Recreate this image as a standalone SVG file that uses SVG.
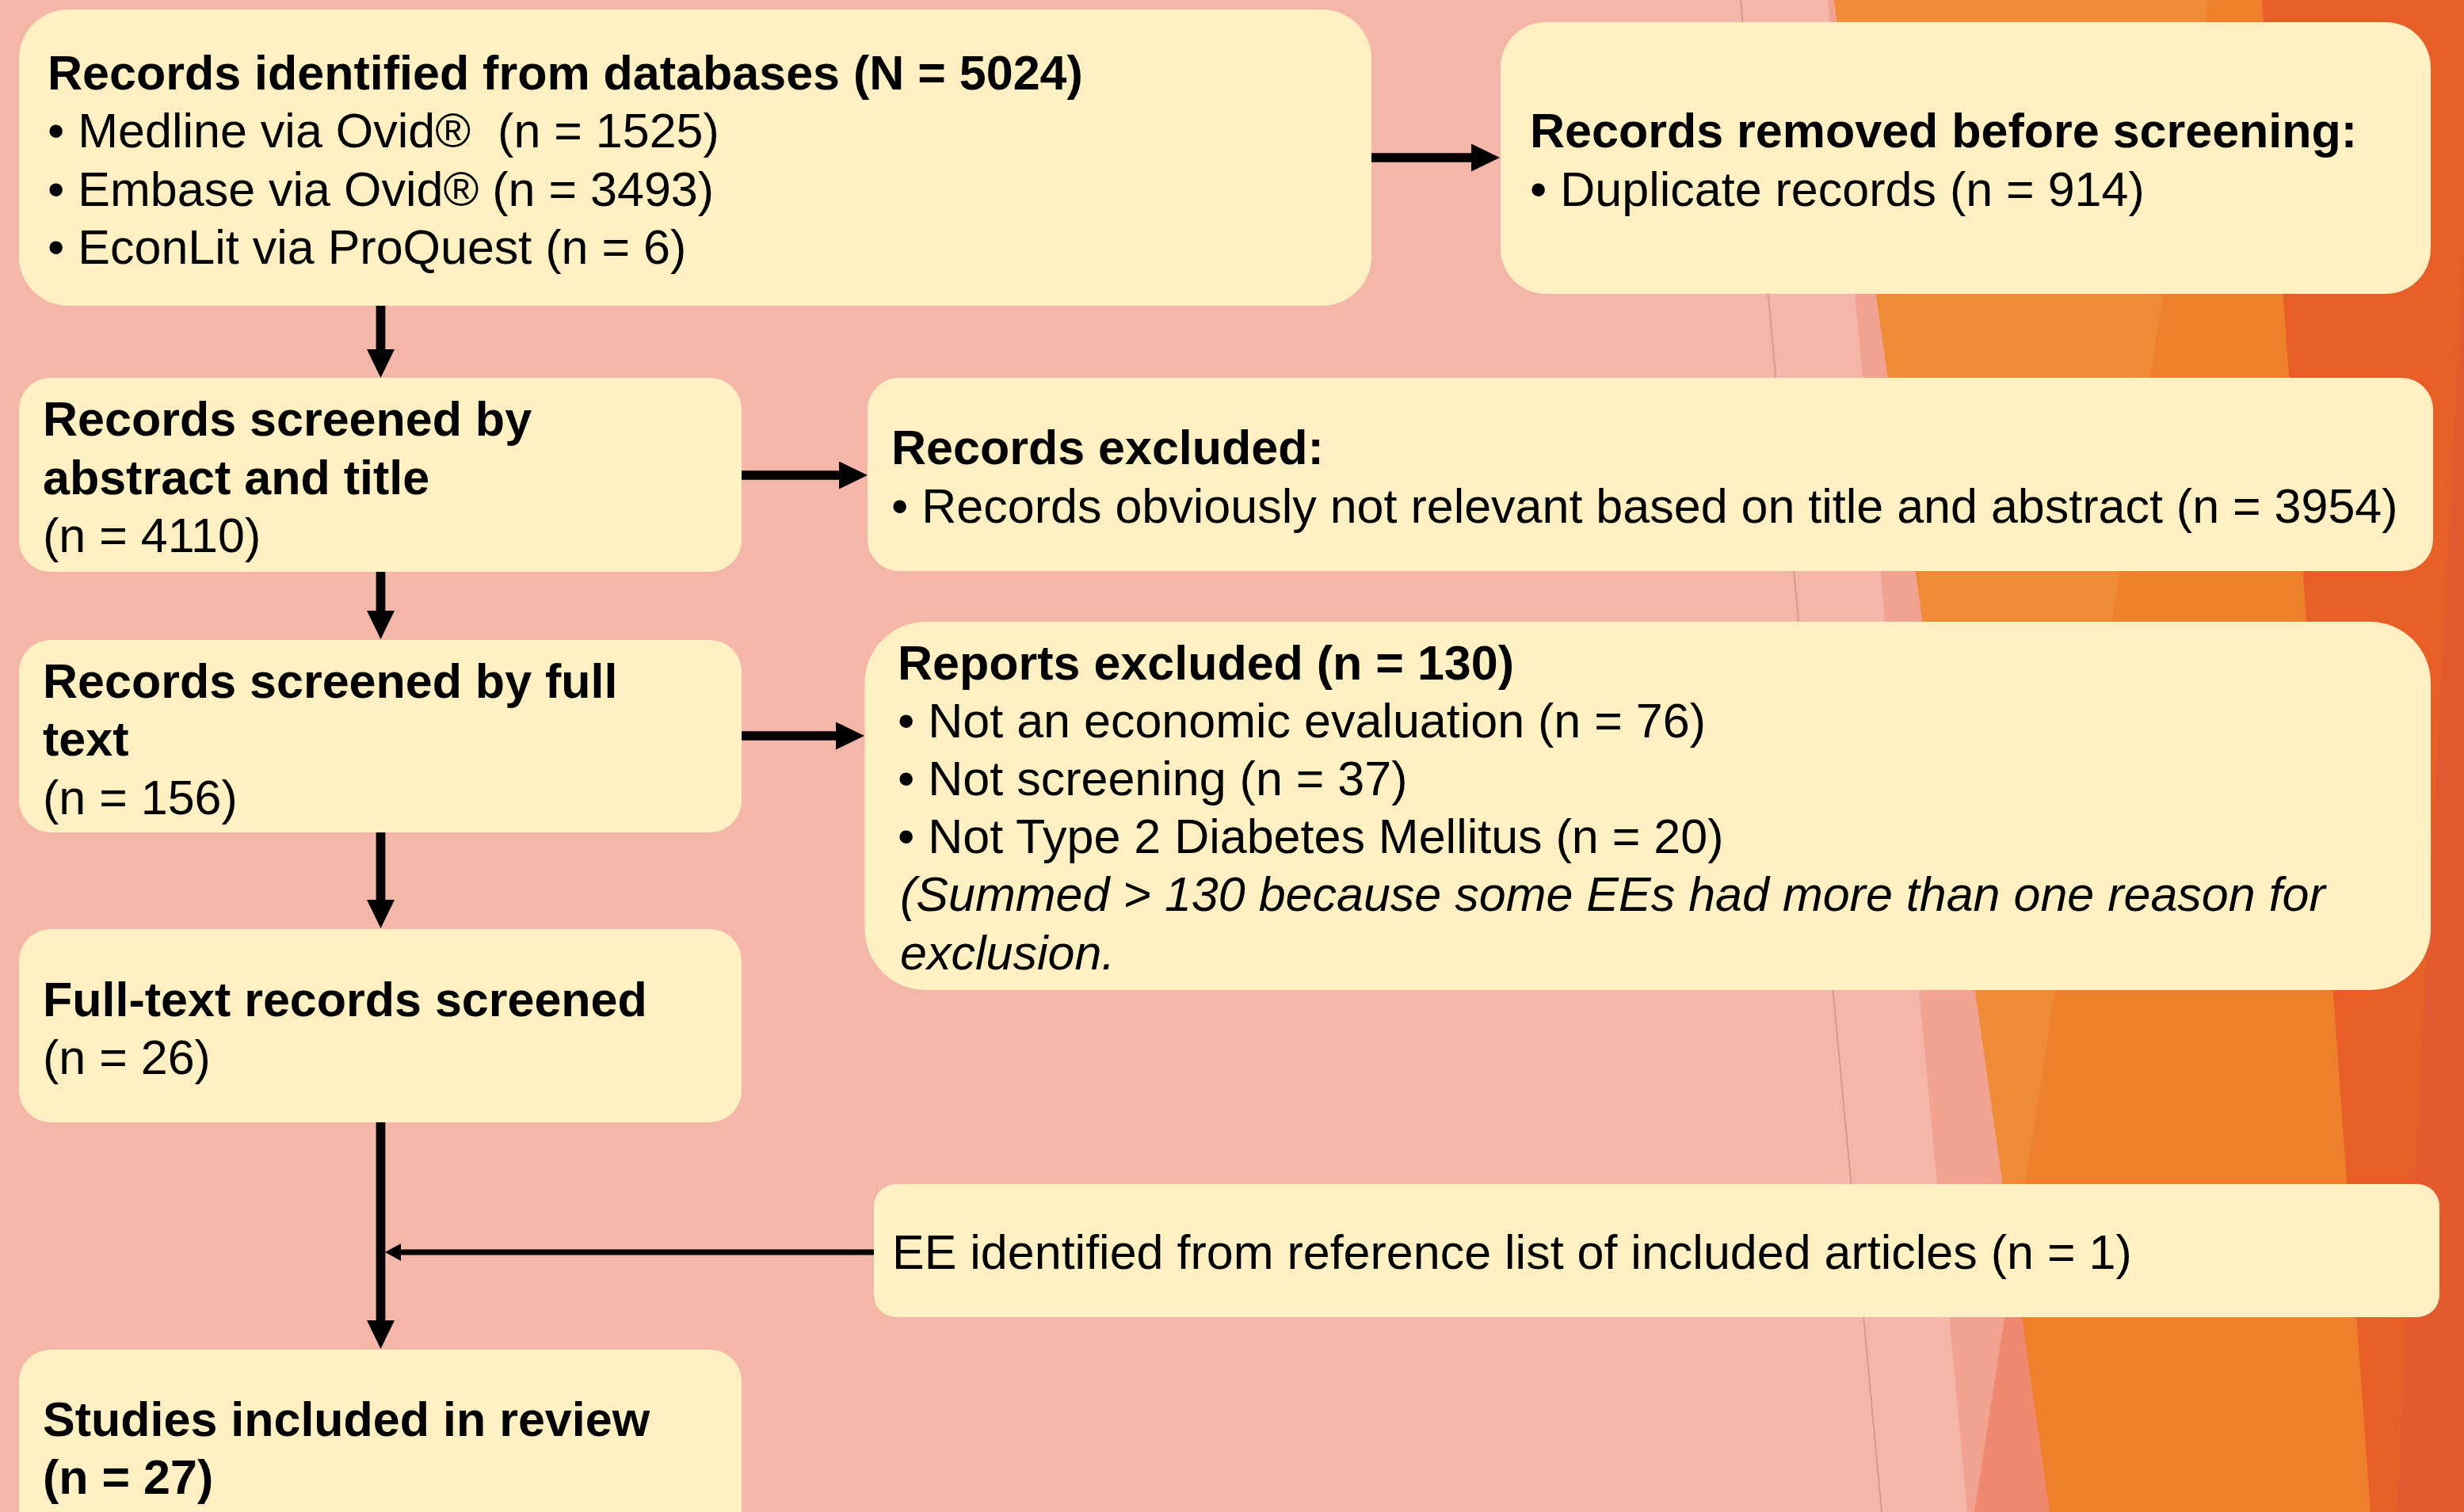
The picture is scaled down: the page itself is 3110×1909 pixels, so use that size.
<svg xmlns="http://www.w3.org/2000/svg" width="3110" height="1909" viewBox="0 0 3110 1909">
  <style>
    .box { fill: #FEF0C3; }
    text { font-family: "Liberation Sans", Arial, sans-serif; font-size: 61px; fill: #000; }
    .b { font-weight: bold; }
    .i { font-style: italic; }
    .flow { stroke: #000; stroke-width: 11.7; fill: none; }
    .thin { stroke: #000; stroke-width: 7; fill: none; stroke-linecap: round; }
  </style>
  <defs>
    <marker id="head" markerUnits="userSpaceOnUse" markerWidth="36" markerHeight="35" viewBox="0 0 36 35" refX="1" refY="17.5" orient="auto">
      <path d="M0,0 L36,17.5 L0,35 Z" fill="#000"/>
    </marker>
    <marker id="headSmall" markerUnits="userSpaceOnUse" markerWidth="20" markerHeight="22" viewBox="0 0 20 22" refX="1" refY="11" orient="auto">
      <path d="M0,0 L20,11 L0,22 Z" fill="#000"/>
    </marker>
  </defs>

  <!-- backdrop: pink field with angled facets on the right -->
  <g id="backdrop">
    <rect x="0" y="0" width="3110" height="1909" fill="#F4B6A8"/>
    <line x1="2197" y1="0" x2="2375" y2="1909" stroke="#C9978D" stroke-width="1.6"/>
    <polygon points="2307,0 3110,0 3110,1909 2483,1909" fill="#F1A290"/>
    <polygon points="2788,0 3110,0 3110,1909 2492,1909" fill="#EE8871"/>
    <polygon points="2315,0 3110,0 3110,1909 2587,1909" fill="#EE7F2B"/>
    <polygon points="2315,0 2788,0 2541.5,1589.7" fill="#EF8A36"/>
    <polygon points="2855,0 3110,0 3110,1909 2992,1909" fill="#E85E27"/>
    <polygon points="3110,320 3110,1909 3025,1909" fill="#E35A30"/>
  </g>

  <!-- connectors -->
  <g id="connectors">
    <line class="flow" x1="480.5" y1="386" x2="480.5" y2="442" marker-end="url(#head)"/>
    <line class="flow" x1="1731" y1="199" x2="1858" y2="199" marker-end="url(#head)"/>
    <line class="flow" x1="480.5" y1="722" x2="480.5" y2="772" marker-end="url(#head)"/>
    <line class="flow" x1="936" y1="600" x2="1060" y2="600" marker-end="url(#head)"/>
    <line class="flow" x1="480.5" y1="1051" x2="480.5" y2="1137" marker-end="url(#head)"/>
    <line class="flow" x1="936" y1="929" x2="1056" y2="929" marker-end="url(#head)"/>
    <line class="flow" x1="480.5" y1="1417" x2="480.5" y2="1668" marker-end="url(#head)"/>
    <line class="thin" x1="1103" y1="1581" x2="505" y2="1581" marker-end="url(#headSmall)"/>
  </g>

  <g id="identified">
    <rect class="box" x="24" y="12" width="1707" height="374" rx="62" ry="62"/>
    <text x="60" y="113" class="b">Records identified from databases (N = 5024)</text>
    <text x="60" y="186">• Medline via Ovid®&#160; (n = 1525)</text>
    <text x="60" y="259.5">• Embase via Ovid® (n = 3493)</text>
    <text x="60" y="333">• EconLit via ProQuest (n = 6)</text>
  </g>

  <g id="removed">
    <rect class="box" x="1894" y="28" width="1174" height="343" rx="57" ry="57"/>
    <text x="1931" y="186" class="b">Records removed before screening:</text>
    <text x="1931" y="259.5">• Duplicate records (n = 914)</text>
  </g>

  <g id="screened-abstract">
    <rect class="box" x="24" y="477" width="912" height="245" rx="40" ry="40"/>
    <text x="54" y="550" class="b">Records screened by</text>
    <text x="54" y="623.5" class="b">abstract and title</text>
    <text x="54" y="697">(n = 4110)</text>
  </g>

  <g id="records-excluded">
    <rect class="box" x="1095" y="477" width="1976" height="244" rx="40" ry="40"/>
    <text x="1125" y="586" class="b">Records excluded:</text>
    <text x="1125" y="659.5">• Records obviously not relevant based on title and abstract (n = 3954)</text>
  </g>

  <g id="screened-fulltext">
    <rect class="box" x="24" y="808" width="912" height="243" rx="40" ry="40"/>
    <text x="54" y="880.5" class="b">Records screened by full</text>
    <text x="54" y="954" class="b">text</text>
    <text x="54" y="1027.5">(n = 156)</text>
  </g>

  <g id="reports-excluded">
    <rect class="box" x="1091.5" y="785" width="1976.5" height="465" rx="77" ry="77"/>
    <text x="1133" y="857.5" class="b">Reports excluded (n = 130)</text>
    <text x="1133" y="931">• Not an economic evaluation (n = 76)</text>
    <text x="1133" y="1004">• Not screening (n = 37)</text>
    <text x="1133" y="1077">• Not Type 2 Diabetes Mellitus (n = 20)</text>
    <text x="1136" y="1150" class="i">(Summed &gt; 130 because some EEs had more than one reason for</text>
    <text x="1136" y="1223.5" class="i">exclusion.</text>
  </g>

  <g id="fulltext-screened">
    <rect class="box" x="24" y="1173" width="912" height="244" rx="40" ry="40"/>
    <text x="54" y="1282.5" class="b">Full-text records screened</text>
    <text x="54" y="1355.5">(n = 26)</text>
  </g>

  <g id="reference-list">
    <rect class="box" x="1103" y="1495" width="1976" height="168" rx="28" ry="28"/>
    <text x="1126" y="1602">EE identified from reference list of included articles (n = 1)</text>
  </g>

  <g id="included">
    <rect class="box" x="24" y="1704" width="912" height="244" rx="40" ry="40"/>
    <text x="54" y="1812.5" class="b">Studies included in review</text>
    <text x="54" y="1886" class="b">(n = 27)</text>
  </g>
</svg>
